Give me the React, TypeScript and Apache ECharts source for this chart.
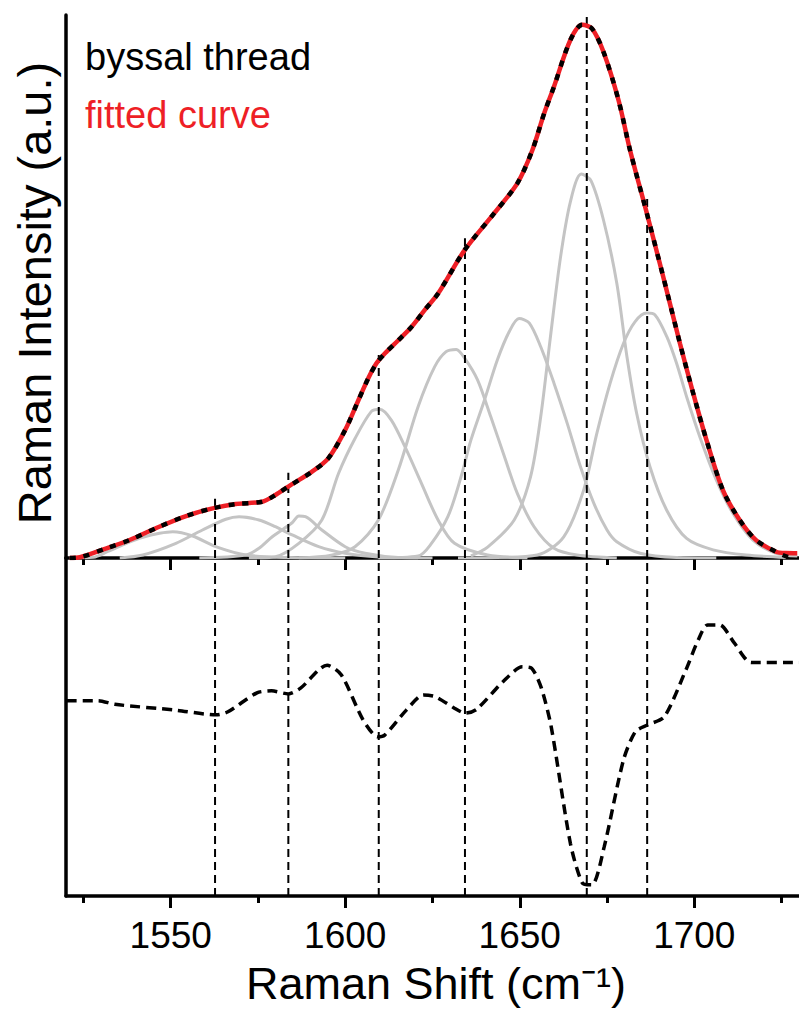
import React, { useEffect, useRef } from "react";
import * as echarts from "echarts";

// ---- axis ----
const X_MIN = 1520;
const X_MAX = 1730;
const majorTicks = [1550, 1600, 1650, 1700];
const minorTicks = [1525, 1575, 1625, 1675, 1725];

// ---- top panel: measured spectrum, fitted curve and fitted components ----
const byssalThread: number[][] = [
  [1521.1, 0], [1524, 0.13], [1531.6, 1.79], [1538.2, 3.31], [1546.7, 5.76], [1554.4, 7.73],
  [1562, 9.15], [1568.6, 9.94], [1576.2, 10.37], [1580, 11.6], [1583.8, 13.2], [1590.5, 15.9],
  [1595.2, 18.4], [1600, 23.6], [1603.8, 29.1], [1606.6, 33.1], [1609, 35.9], [1611.4, 37.7],
  [1615.2, 40.1], [1618.9, 42.5], [1622.8, 45.7], [1626.6, 48.7], [1634.2, 56.7], [1642.7, 63.5],
  [1649.3, 69.0], [1653.6, 75.1], [1657, 81.9], [1659.8, 86.8], [1664.5, 95.4], [1667.9, 98.2],
  [1670.7, 97.5], [1674, 93.2], [1678.3, 84.3], [1681.6, 75.1], [1686.4, 63.5], [1691.1, 51.8],
  [1695.9, 39.5], [1699.7, 30.3], [1703.5, 21.7], [1708.2, 12.5], [1713, 7.0], [1717.7, 3.3],
  [1723.4, 1.16], [1726.3, 0.3], [1728.8, 0],
];

const fittedCurve: number[][] = [
  [1521.1, 0], [1524, 0.13], [1531.6, 1.79], [1538.2, 3.31], [1546.7, 5.76], [1554.4, 7.73],
  [1562, 9.15], [1568.6, 9.94], [1576.2, 10.37], [1580, 11.6], [1583.8, 13.2], [1590.5, 15.9],
  [1595.2, 18.4], [1600, 23.6], [1603.8, 29.1], [1606.6, 33.1], [1609, 35.9], [1611.4, 37.7],
  [1615.2, 40.1], [1618.9, 42.5], [1622.8, 45.7], [1626.6, 48.7], [1634.2, 56.7], [1642.7, 63.5],
  [1649.3, 69.0], [1653.6, 75.1], [1657, 81.9], [1659.8, 86.8], [1664.5, 95.4], [1667.9, 98.2],
  [1670.7, 97.5], [1674, 93.2], [1678.3, 84.3], [1681.6, 75.1], [1686.4, 63.5], [1691.1, 51.8],
  [1695.9, 39.5], [1699.7, 30.3], [1703.5, 21.7], [1708.2, 12.5], [1713, 7.0], [1717.7, 3.3],
  [1723.4, 1.16], [1726.3, 0.9], [1729.5, 0.87],
];

const band1549: number[][] = [
  [1521.1, 0], [1527.8, 0.13], [1532, 1.2], [1537.3, 2.7], [1542, 3.8], [1546.8, 4.55],
  [1550.6, 4.84], [1556.3, 4.05], [1562.9, 2.08], [1571.5, 0.55], [1583.8, 0.09], [1600, 0],
];
const band1570: number[][] = [
  [1535.4, 0], [1542, 0.55], [1551.5, 2.7], [1559.1, 5.16], [1565.8, 7.13], [1569.6, 7.6],
  [1575.3, 7.0], [1580, 5.76], [1584.8, 4.24], [1592.4, 2.08], [1600, 0.87], [1609.5, 0.18], [1620.9, 0],
];
const band1587: number[][] = [
  [1558.2, 0], [1571.5, 0.55], [1575.5, 1.9], [1579.1, 3.92], [1584.8, 6.5], [1586.7, 7.73],
  [1588.6, 7.6], [1593.3, 5.16], [1600, 2.08], [1605.7, 0.87], [1615.2, 0.09], [1625, 0],
];
const band1609: number[][] = [
  [1572.4, 0], [1580, 0.24], [1586.7, 2.7], [1593.3, 7.0], [1598.1, 15.6], [1602.8, 22.0],
  [1607.5, 27.0], [1609.9, 27.4], [1613.2, 25.4], [1617.1, 20.5], [1621.8, 13.8], [1626.6, 7.0],
  [1631.3, 2.7], [1640.8, 0.55], [1652.2, 0],
];
const band1631: number[][] = [
  [1586.7, 0], [1596, 0.5], [1602.8, 2.08], [1609.5, 7.0], [1615.2, 16.2], [1620.9, 27.9],
  [1625.6, 35.2], [1628.9, 38.0], [1631.8, 38.4], [1634.2, 36.8], [1637.9, 32.8], [1641.7, 26.0],
  [1645.6, 18.7], [1649.3, 11.9], [1654.1, 5.76], [1659.8, 1.79], [1666.4, 0.55], [1677.8, 0],
];
const band1650: number[][] = [
  [1609.5, 0], [1620.9, 0.37], [1624.5, 2.5], [1629.4, 7.6], [1633.2, 15.0], [1636, 21.7],
  [1639.9, 29.1], [1643.6, 36.5], [1647, 41.7], [1649.8, 44.1], [1652.7, 43.3], [1656, 38.9],
  [1659.8, 32.2], [1663.6, 24.8], [1667.4, 16.8], [1671.2, 10.1], [1675, 5.16], [1677.8, 3.0],
  [1684.5, 0.87], [1694.9, 0.09], [1706.3, 0],
];
const band1668: number[][] = [
  [1636, 0.4], [1640.8, 2.0], [1648.4, 7.0], [1653.1, 15.0], [1656, 26.0], [1658.8, 40.8],
  [1661.7, 55.5], [1664.5, 65.6], [1667.6, 70.7], [1670.4, 69.5], [1674, 62.2], [1677.8, 50.6],
  [1680.7, 37.1], [1683.5, 26.6], [1687.3, 16.8], [1692.1, 8.8], [1697.8, 3.6], [1705.4, 1.5],
  [1714.9, 0.55], [1726.3, 0.1],
];
const band1687: number[][] = [
  [1632.3, 0], [1643.6, 0.1], [1655, 0.55], [1662.6, 3.9], [1668.3, 12.5], [1672.1, 23.0],
  [1675.9, 32.2], [1679.7, 39.5], [1683, 43.5], [1686.4, 45.1], [1688.7, 44.8], [1692.1, 40.8],
  [1694.9, 35.9], [1697.8, 29.7], [1701.6, 22.3], [1706.3, 14.4], [1711.1, 8.2], [1716.8, 3.3],
  [1723.4, 0.87], [1729.5, 0.37],
];
const bands = [band1549, band1570, band1587, band1609, band1631, band1650, band1668, band1687];

// ---- reference (dashed) lines: position and top height in the upper panel ----
const refLineX = [1562.7, 1583.7, 1609.6, 1634.3, 1669.2, 1686.5];
const refLineTop = [10.9, 15.7, 38.0, 58.9, 100, 66.6];

// ---- bottom panel: second derivative ----
const secondDerivative: number[][] = [
  [1520.2, 57.8], [1529.2, 57.8], [1534, 56.7], [1551.3, 55], [1563, 53.6], [1566.4, 54.5],
  [1574.7, 60.1], [1578.9, 60.7], [1583.7, 59.8], [1587.2, 61.5], [1594.8, 68.3], [1598.9, 65.4],
  [1605.1, 52.1], [1609.3, 47.1], [1611.3, 47.6], [1617.5, 55], [1622.4, 59.5], [1625.8, 59],
  [1631.4, 55.5], [1634.4, 54.1], [1637.6, 55.2], [1645.2, 63.4], [1650.7, 67.8], [1653.4, 67.4],
  [1656.2, 61.5], [1659, 50.1], [1664.5, 15.6], [1667.9, 3.9], [1670.7, 3.3], [1674.2, 14.6],
  [1679.7, 40.2], [1683.1, 48.6], [1686.6, 50.6], [1691.4, 53], [1697.6, 66.9], [1701.1, 75.7],
  [1703.8, 80.2], [1707.3, 80.2], [1711.5, 74.8], [1716.3, 69.1], [1730, 69.1],
];

const FONT = "'Liberation Sans', Arial, Helvetica, sans-serif";

export default function App() {
  const ref = useRef<HTMLDivElement>(null);

  useEffect(() => {
    if (!ref.current) return;
    const chart = echarts.init(ref.current, undefined, { renderer: "svg" });

    const gridLeft = 66;
    const gridWidth = 3.51 * (X_MAX - X_MIN);

    const xBase = (gridIndex: number, ticks: number[], len: number, showLine: boolean, labels: boolean) => ({
      type: "value",
      gridIndex,
      position: "bottom",
      min: X_MIN,
      max: X_MAX,
      axisLine: { show: showLine, lineStyle: { color: "#000", width: 3.5 } },
      axisTick: { show: true, customValues: ticks, length: len, lineStyle: { color: "#000", width: 3 } },
      axisLabel: labels
        ? {
            show: true,
            customValues: majorTicks,
            formatter: (v: number) => String(v),
            color: "#000",
            fontSize: 37,
            fontFamily: FONT,
            margin: 21,
          }
        : { show: false },
      splitLine: { show: false },
    });

    const yBase = (gridIndex: number) => ({
      type: "value",
      gridIndex,
      min: 0,
      max: 100,
      axisLine: { show: true, lineStyle: { color: "#000", width: 3.5 } },
      axisTick: { show: false },
      axisLabel: { show: false },
      splitLine: { show: false },
    });

    const series: any[] = [];
    bands.forEach((b, i) => {
      series.push({
        name: "band" + i,
        type: "line",
        xAxisIndex: 0,
        yAxisIndex: 0,
        data: b,
        symbol: "none",
        smooth: 0.3,
        lineStyle: { color: "#c4c4c4", width: 3 },
        z: 2,
      });
    });
    refLineX.forEach((x, i) => {
      series.push({
        type: "line",
        xAxisIndex: 0,
        yAxisIndex: 0,
        data: [[x, 0], [x, refLineTop[i]]],
        symbol: "none",
        lineStyle: { color: "#000", width: 2, type: [8, 5] },
        z: 3,
      });
      series.push({
        type: "line",
        xAxisIndex: 2,
        yAxisIndex: 1,
        data: [[x, 0], [x, 100]],
        symbol: "none",
        lineStyle: { color: "#000", width: 2, type: [8, 5] },
        z: 3,
      });
    });
    series.push({
      name: "fitted curve",
      type: "line",
      xAxisIndex: 0,
      yAxisIndex: 0,
      data: fittedCurve,
      symbol: "none",
      smooth: 0.3,
      lineStyle: { color: "#ee1f26", width: 4.5 },
      z: 4,
    });
    series.push({
      name: "byssal thread",
      type: "line",
      xAxisIndex: 0,
      yAxisIndex: 0,
      data: byssalThread,
      symbol: "none",
      smooth: 0.3,
      lineStyle: { color: "#000", width: 4.5, type: [6, 8] },
      z: 5,
    });
    series.push({
      name: "second derivative",
      type: "line",
      xAxisIndex: 2,
      yAxisIndex: 1,
      data: secondDerivative,
      symbol: "none",
      smooth: 0.25,
      lineStyle: { color: "#000", width: 3.5, type: [10, 6] },
      z: 5,
    });

    const textStyle = (text: string, fill: string, fontSize: number, align: string) => ({
      text,
      fill,
      fontSize,
      fontFamily: FONT,
      align,
      verticalAlign: "middle",
      textAlign: align,
      textVerticalAlign: "middle",
    });

    chart.setOption({
      animation: false,
      backgroundColor: "#fff",
      grid: [
        { left: gridLeft, top: 15, width: gridWidth, height: 543 },
        { left: gridLeft, top: 558, width: gridWidth, height: 338 },
      ],
      xAxis: [
        xBase(0, majorTicks, 12, true, false),
        xBase(0, minorTicks, 7, false, false),
        xBase(1, majorTicks, 12, true, true),
        xBase(1, minorTicks, 7, false, false),
      ],
      yAxis: [yBase(0), yBase(1)],
      series,
      graphic: [
        { type: "text", x: 85, y: 57, style: textStyle("byssal thread", "#000", 38, "left") },
        { type: "text", x: 85, y: 115, style: textStyle("fitted curve", "#ee1f26", 38, "left") },
        {
          type: "text",
          x: 34,
          y: 293,
          rotation: Math.PI / 2,
          style: textStyle("Raman Intensity (a.u.)", "#000", 47, "center"),
        },
        { type: "text", x: 436, y: 983, style: textStyle("Raman Shift (cm\u207B\u00B9)", "#000", 45, "center") },
      ],
    });

    return () => chart.dispose();
  }, []);

  return (
    <div
      ref={ref}
      style={{ position: "absolute", left: 0, top: 0, width: 799, height: 1010, background: "#fff" }}
    />
  );
}
